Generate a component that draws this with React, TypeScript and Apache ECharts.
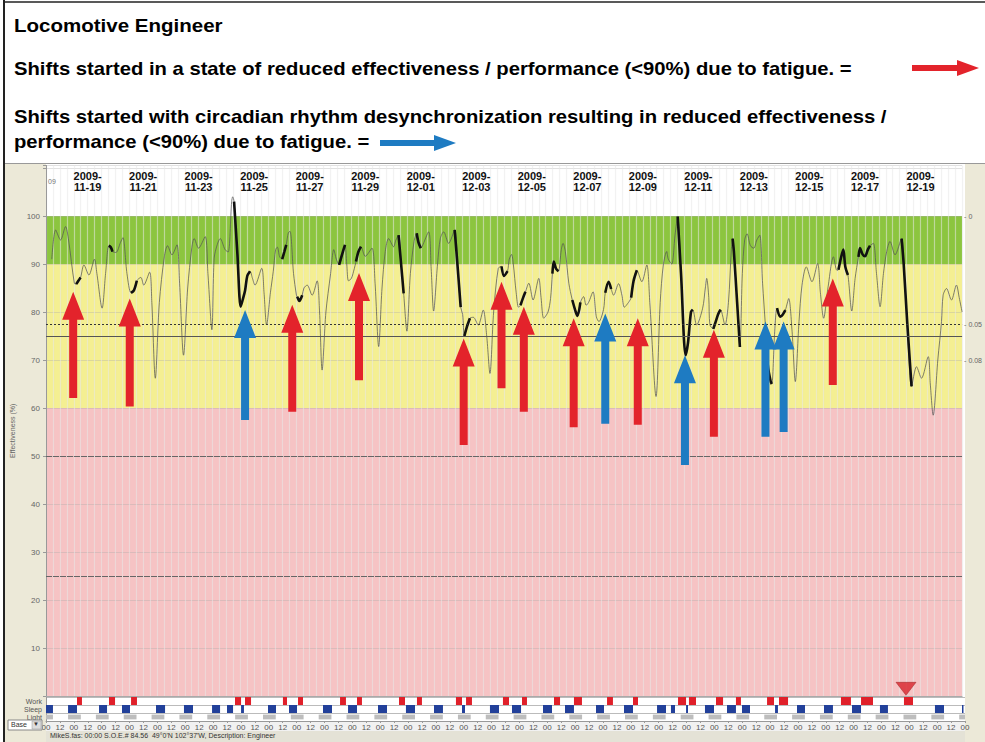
import React, { useEffect, useRef } from 'react';
import * as echarts from 'echarts';

// Hours are counted from 2009-11-18 00:00
const dateLabels = ['2009-11-19', '2009-11-21', '2009-11-23', '2009-11-25', '2009-11-27', '2009-11-29', '2009-12-01', '2009-12-03', '2009-12-05', '2009-12-07', '2009-12-09', '2009-12-11', '2009-12-13', '2009-12-15', '2009-12-17', '2009-12-19'];
const rowNames = ['Work', 'Sleep', 'Light'];
const rightAxisLabels: Record<string, string> = { '100': '0', '77.5': '0.05', '70': '0.08' };

const effectiveness: [number, number][] = [
  [5, 91], [8.3, 97.1], [12.6, 95], [16.9, 97.8], [19.5, 95], [24.5, 86], [26.1, 85.8], [28, 86.5], [29.9, 87.2], [32.8, 89.8], [37.1, 87.7], [41.9, 91], [44, 88], [48.5, 80.8],
  [51.5, 88], [54.3, 93.8], [56, 93.5], [57.5, 92.6], [60.5, 92.4], [64.4, 94.5], [66.5, 95.5], [70, 88], [73.5, 84], [76, 84.5], [78.5, 86.5], [82, 87.2], [84.5, 85.6], [89.6, 88.3], [91.5, 82], [94.5, 66.2],
  [98, 82], [102.3, 91.5], [105.1, 93.8], [108.9, 91.9], [113.2, 94], [115.5, 86], [118.9, 71],
  [122.5, 85], [126.1, 93.5], [128.1, 95.3], [131.9, 93.3], [137.6, 95.7], [140, 88], [143.4, 76.3],
  [145.4, 91.2], [148, 94], [150.6, 95.3], [154.8, 93], [157.5, 92.5], [160.5, 103], [161.4, 104],
  [162.6, 103], [165.5, 92], [168.3, 81.1], [170, 82.5], [172.1, 84.5], [174, 87.5], [176.4, 88.5], [178.5, 87], [180.7, 85.6], [186.5, 89.1], [188.5, 84], [190.7, 77.3],
  [194, 84], [196.5, 88.5], [198.5, 93], [200, 93.5], [202, 91.5], [204.2, 91], [206, 92.5], [207.7, 94], [209.5, 96.5], [211, 96.8], [214, 88], [216.5, 83.5], [217.2, 83.2], [219, 82.3], [221.5, 83.5], [223, 85], [225.8, 85.6], [230.1, 83.5], [234.4, 86.5], [236.5, 80], [238.7, 67.9],
  [242, 80], [245.9, 87.7], [248.8, 93], [251, 91], [253.4, 89.8], [256, 92], [258.5, 94], [260, 90], [261.5, 86.5], [264, 87], [266.5, 89], [268, 90.5], [270, 92.5], [272.3, 93.6], [276, 91.6], [281.8, 93.3], [284.5, 86], [287.6, 72.8],
  [290.5, 85], [293.3, 92.6], [296.2, 95.3], [300.5, 93.6], [302.5, 95], [304.8, 96], [307, 90], [309.2, 83.9], [312, 76],
  [315, 88], [318.2, 94.7], [320.5, 96.4], [322, 94.5], [324, 93.3], [325.1, 93.6], [330.8, 96.7], [333, 89], [335.1, 80.2],
  [338.5, 90], [340.9, 95.3], [343.8, 96.7], [348.1, 94.3], [353.3, 97.1], [356, 89], [358.5, 81], [360.2, 79.5], [361.7, 75], [364, 77], [366.5, 78.7], [369.4, 78.9], [373.7, 77.3], [378, 80.4], [381, 75], [383.8, 67.2],
  [387, 80], [391, 89.1], [393.8, 89.5], [396, 87.5], [399, 88.5], [400.5, 91], [402.5, 92], [404, 90], [406.5, 84], [408.5, 81], [410.2, 81.4], [412.5, 83], [414.5, 84.2], [417.4, 86], [421.1, 82.5], [426, 87], [428, 83], [430.3, 78.7],
  [434, 80], [436.2, 82.8], [437.8, 88], [439, 90.5], [441, 89], [443, 88.5], [445.5, 93], [447, 94.3], [449, 92.6], [452, 86], [455, 82.5], [458, 80], [459.5, 79.2], [462, 82], [464.8, 83.2], [467, 81.4], [469.1, 82], [472.9, 84.2], [475.8, 79],
  [478, 78], [482, 80.5], [483.5, 84], [486.4, 86.3], [488.6, 84.8], [490.7, 83.5], [495, 85.9], [497.9, 83.5], [500, 81], [503.6, 82], [505.9, 83], [508, 86.5], [510.8, 88.7], [515.1, 86.3], [519.4, 89.8], [522, 82], [527.4, 62.4],
  [531, 82], [533.7, 89.8], [536.6, 92.6], [538, 91], [541, 90], [543.8, 96], [546.1, 99.9], [549, 88], [553, 71], [555, 73.5], [557.6, 80], [559.1, 80.5], [562.5, 77.3], [567.7, 80.8], [570, 85], [571.2, 87], [573, 83], [574, 77.3], [576.9, 76.5], [579, 78], [581, 79.5], [583.1, 80.5], [587, 77.3], [590, 82], [592.5, 93], [593.6, 95.3], [594.7, 92.6], [597.5, 82], [599.9, 72.7],
  [602, 88], [604, 95], [606.1, 96.3], [609, 93.8], [611.9, 93.3], [614.5, 95], [617.1, 96], [619.5, 86], [621.9, 77.3], [624, 69], [626.5, 65.5], [627.5, 65],
  [630, 76], [632, 80.8], [634.9, 79], [637, 79.5], [639.2, 80.4], [642.1, 82.8], [645, 76], [647.8, 65.5],
  [651, 78], [653.6, 85.6], [657.3, 89.4], [662.2, 86.3], [667.1, 90.1], [669.5, 84], [672.3, 78.7],
  [676, 85], [680.8, 91.5], [683.7, 88.7], [685.1, 88.8], [687.5, 91.5], [689.3, 93], [691, 89.5], [693.3, 87.7], [696.6, 80.2],
  [699.5, 87], [702.4, 91.5], [703.8, 93.3], [706, 92], [708.1, 91.6], [710.5, 93], [712.4, 93.8], [715.3, 94.3], [718, 88], [721.1, 81.1],
  [724, 88], [726.8, 92.6], [729.7, 94.7], [734, 91.9], [739.7, 95.3], [741.5, 90], [744.5, 78], [748.3, 64.5], [752.6, 68.6], [756.9, 66.2], [762.7, 70.7], [764.5, 65], [767, 58.5],
  [771, 70], [774.2, 78], [775.6, 83.5], [778.5, 84.9], [782.8, 82.5], [787.1, 85.6], [789.5, 83], [792, 80],
];

const boldSegments: [number, number][] = [
  [26.1, 29.9], [54.3, 57.5], [73.5, 78.5], [162.6, 168.3], [170, 176.4], [204.2, 207.7], [217.2, 221.5], [253.4, 258.5], [268, 272.3], [304.8, 309.2], [320.5, 324],
  [353.3, 358.5], [361.7, 366.5], [393.8, 399], [410.2, 414.5], [437.8, 443], [455, 462], [483.5, 488.6], [505.9, 510.8], [546.1, 559.1], [576.9, 583.1], [593.6, 599.9],
  [621.9, 627.5], [632, 639.2], [685.1, 693.3], [702.4, 712.4], [739.7, 748.3],
];

const workBlocks: [number, number][] = [
  [26.7, 31.0], [54.3, 59.5], [73.3, 78.4], [162.9, 168.1], [171.5, 176.7], [204.2, 207.7], [217.2, 221.5], [253.4, 258.5], [268.0, 272.3], [304.2, 309.4],
  [319.7, 324.0], [353.3, 358.5], [362.0, 367.1], [393.8, 399.0], [410.2, 414.5], [437.8, 443.0], [455.0, 461.9], [483.5, 488.6], [505.9, 510.2], [544.7, 551.6],
  [554.1, 560.2], [577.4, 583.5], [594.6, 598.9], [621.4, 627.4], [631.7, 639.5], [685.1, 693.7], [702.4, 712.7], [739.4, 747.2],
];

const sleepBlocks: [number, number][] = [
  [0, 6.0], [19.0, 26.7], [45.7, 52.6], [65.5, 72.4], [94.8, 102.6], [118.9, 126.7], [143.1, 150.0], [156.0, 161.2], [168.1, 170.6], [191.3, 198.2], [209.4, 216.3],
  [238.7, 246.5], [260.3, 268.0], [286.1, 293.9], [310.2, 318.0], [334.4, 342.1], [358.5, 361.1], [382.6, 390.4], [401.6, 409.4], [428.3, 436.1], [447.3, 455.0],
  [474.0, 480.9], [498.1, 505.9], [526.6, 534.3], [538.6, 542.1], [551.6, 553.3], [567.9, 575.7], [586.9, 594.6], [599.8, 606.7], [628.3, 630.8], [647.2, 654.1],
  [670.5, 678.2], [694.6, 702.4], [718.7, 725.6], [766.1, 773.9], [789.4, 790.3],
];

const darkBlocks: [number, number][] = [
  [-5, 6], [19, 30], [43, 54], [67, 78], [91, 102], [115, 126], [139, 150], [163, 174], [187, 198], [211, 222], [235, 246], [259, 270], [283, 294], [307, 318],
  [331, 342], [355, 366], [379, 390], [403, 414], [427, 438], [451, 462], [475, 486], [499, 510], [523, 534], [547, 558], [571, 582], [595, 606], [619, 630],
  [643, 654], [667, 678], [691, 702], [715, 726], [739, 750], [763, 774], [787, 798],
];

// [hour, tip value, tail value]
const fatigueArrows: [number, number, number][] = [
  [23.5, 84.2, 62.1], [72.4, 82.8, 60.3], [212.9, 81.5, 59.2], [270.6, 88.1, 65.8], [361.1, 74.5, 52.3], [393.8, 86.3, 64.1],
  [413.1, 81.1, 59.2], [456.2, 78.7, 56], [511.6, 78.7, 56.5], [577.4, 76.3, 54], [680.2, 87, 64.8],
];
const desyncArrows: [number, number, number][] = [
  [172.1, 80.4, 57.5], [483.5, 79.7, 56.7], [552.4, 71, 48.1], [622, 78, 54], [637.7, 78, 55],
];

const alertMarkers: [number, number][] = [[743.5, 1.5]];
const zoneLimits = { top: 110.5, green: 100, yellow: 90, pink: 60 };
const refLines = { dotted: 77.5, solid: 75, lower: [50, 25] };

const FONT = '"Liberation Sans", Arial, sans-serif';
const RED = '#E3232B';
const BLUE = '#1E7BC2';

function App() {
  const ref = useRef<HTMLDivElement>(null);
  useEffect(() => {
    if (!ref.current) return;
    const chart = echarts.init(ref.current, undefined, { renderer: 'svg' });

    const inBold = (h: number) => boldSegments.some(([s, e]) => h >= s - 0.01 && h <= e + 0.01);
    const boldData = effectiveness.map(([h, v]) => (inBold(h) ? [h, v] : [h, '-']));

    const off = (v: number) => (zoneLimits.top - v) / zoneLimits.top;
    const bg = new echarts.graphic.LinearGradient(0, 0, 0, 1, [
      { offset: 0, color: '#ffffff' },
      { offset: off(zoneLimits.green), color: '#ffffff' },
      { offset: off(zoneLimits.green), color: '#8CC53F' },
      { offset: off(zoneLimits.yellow), color: '#8CC53F' },
      { offset: off(zoneLimits.yellow), color: '#F4EF92' },
      { offset: off(zoneLimits.pink), color: '#F4EF92' },
      { offset: off(zoneLimits.pink), color: '#F6C3C4' },
      { offset: 1, color: '#F6C3C4' },
    ]);

    const arrowRender = (color: string) => (params: any, api: any) => {
      const tip = api.coord([api.value(0), api.value(1)]);
      const tail = api.coord([api.value(0), api.value(2)]);
      const x = tip[0];
      const hw = 11, sw = 4, hh = 28;
      return {
        type: 'polygon',
        shape: {
          points: [
            [x, tip[1]], [x + hw, tip[1] + hh], [x + sw, tip[1] + hh], [x + sw, tail[1]],
            [x - sw, tail[1]], [x - sw, tip[1] + hh], [x - hw, tip[1] + hh],
          ],
        },
        style: { fill: color },
      };
    };

    const stripRender = (color: string, frac: number) => (params: any, api: any) => {
      const p0 = api.coord([api.value(0), api.value(2)]);
      const p1 = api.coord([api.value(1), api.value(2)]);
      const bh = api.size([0, 1])[1] * frac;
      const cs = params.coordSys;
      const rect = echarts.graphic.clipRectByRect(
        { x: p0[0], y: p0[1] - bh / 2, width: Math.max(p1[0] - p0[0], 1.5), height: bh },
        { x: cs.x, y: cs.y, width: cs.width, height: cs.height }
      );
      return rect ? { type: 'rect', shape: rect, style: { fill: color } } : null;
    };

    const hArrow = (x0: number, x1: number, y: number, color: string) => ({
      type: 'polygon',
      z: 100,
      shape: { points: [[x0, y - 3], [x1 - 22, y - 3], [x1 - 22, y - 8], [x1, y], [x1 - 22, y + 8], [x1 - 22, y + 3], [x0, y + 3]] },
      style: { fill: color },
    });

    const headText = (text: string, top: number, size: number, sx: number) => ({
      type: 'text', left: 14, top, z: 100, scaleX: sx,
      style: { text, font: `bold ${size}px ${FONT}`, fill: '#000' },
    });

    chart.setOption({
      animation: false,
      backgroundColor: '#ffffff',
      textStyle: { fontFamily: FONT },
      graphic: {
        elements: [
          { type: 'rect', z: -5, shape: { x: 5, y: 163, width: 41, height: 579 }, style: { fill: '#ECE9D8' } },
          { type: 'rect', z: -5, shape: { x: 965, y: 163, width: 20, height: 579 }, style: { fill: '#ECE9D8' } },
          { type: 'rect', z: -5, shape: { x: 46, y: 722, width: 919, height: 9 }, style: { fill: '#F1F1F1' } },
          { type: 'rect', z: -5, shape: { x: 46, y: 731, width: 919, height: 11 }, style: { fill: '#E4E2D6' } },
          { type: 'line', z: 100, shape: { x1: 4, y1: 0, x2: 4, y2: 742 }, style: { stroke: '#222', lineWidth: 2 } },
          { type: 'line', z: 100, shape: { x1: 4, y1: 2, x2: 985, y2: 2 }, style: { stroke: '#222', lineWidth: 1.5 } },
          { type: 'line', z: 100, shape: { x1: 5, y1: 163.5, x2: 985, y2: 163.5 }, style: { stroke: '#999', lineWidth: 1 } },
          headText('Locomotive Engineer', 16, 19, 1.08),
          headText('Shifts started in a state of reduced effectiveness / performance (<90%) due to fatigue. =', 60, 18, 1.125),
          headText('Shifts started with circadian rhythm desynchronization resulting in reduced effectiveness /', 108, 18, 1.125),
          headText('performance (<90%) due to fatigue. =', 133, 18, 1.125),
          hArrow(912, 979, 68, RED),
          hArrow(380, 456, 143, BLUE),
          { type: 'rect', z: 100, shape: { x: 8, y: 720, width: 34, height: 10 }, style: { fill: '#fff', stroke: '#888', lineWidth: 1 } },
          { type: 'rect', z: 100, shape: { x: 32, y: 721, width: 9, height: 8 }, style: { fill: '#DDD', stroke: '#999', lineWidth: 0.5 } },
          { type: 'text', z: 101, left: 11, top: 721, style: { text: 'Base', font: `7px ${FONT}`, fill: '#333' } },
          { type: 'text', z: 101, left: 33, top: 721, style: { text: '▼', font: `6px ${FONT}`, fill: '#333' } },
          { type: 'text', z: 100, left: 50, top: 732, style: { text: "MikeS.fas: 00:00 S.O.E.# 84.56  49°0'N 102°37'W, Description: Engineer", font: `7px ${FONT}`, fill: '#333' } },
          { type: 'text', z: 100, left: 48, top: 178, style: { text: '09', font: `7px ${FONT}`, fill: '#777' } },
        ],
      },
      grid: [
        { left: 46, right: 20, top: 165.6, height: 530.4, show: true, backgroundColor: bg, borderWidth: 0 },
        { left: 46, right: 20, top: 697, height: 24, show: true, backgroundColor: '#ffffff', borderWidth: 0 },
      ],
      xAxis: [
        {
          type: 'value', gridIndex: 0, min: 0, max: 792, interval: 6,
          axisLabel: { show: false }, axisLine: { show: false }, axisTick: { show: false },
          splitLine: { show: true, lineStyle: { color: 'rgba(232,232,232,0.55)', width: 1.2 } },
        },
        {
          type: 'value', gridIndex: 0, position: 'top', min: 0, max: 792, interval: 12,
          axisLine: { show: true, lineStyle: { color: '#aaa' } }, axisTick: { show: false }, splitLine: { show: false },
          axisLabel: {
            inside: true, interval: 0, margin: 5, fontSize: 11, fontWeight: 'bold', color: '#111', lineHeight: 11,
            formatter: (v: number) => {
              const k = (v - 36) / 48;
              return Number.isInteger(k) && k >= 0 && k < dateLabels.length
                ? dateLabels[k].slice(0, 5) + '\n' + dateLabels[k].slice(5) : '';
            },
          },
        },
        {
          type: 'value', gridIndex: 1, min: 0, max: 792, interval: 12,
          axisLine: { show: true, lineStyle: { color: '#999' } },
          axisTick: { show: true, length: 2, lineStyle: { color: '#999' } },
          splitLine: { show: false },
          axisLabel: { interval: 0, margin: 2, fontSize: 8, color: '#555', formatter: (v: number) => (v % 24 === 0 ? '00' : '12') },
        },
      ],
      yAxis: [
        {
          type: 'value', gridIndex: 0, min: 0, max: zoneLimits.top, interval: 10,
          name: 'Effectiveness (%)', nameLocation: 'middle', nameGap: 17, nameRotate: 90,
          nameTextStyle: { fontSize: 7, color: '#666' },
          axisLine: { show: true, lineStyle: { color: '#999' } },
          axisTick: { show: true, length: 3, lineStyle: { color: '#999' } },
          axisLabel: { fontSize: 8, color: '#666', margin: 6, formatter: (v: number) => (v > 0 && v <= 100 ? String(v) : '') },
          splitLine: { show: true, lineStyle: { color: 'rgba(170,170,170,0.35)' } },
        },
        {
          type: 'value', gridIndex: 0, position: 'right', min: 0, max: zoneLimits.top, interval: 2.5,
          axisLine: { show: true, lineStyle: { color: '#999' } }, axisTick: { show: false }, splitLine: { show: false },
          axisLabel: { fontSize: 7, color: '#666', margin: 2, formatter: (v: number) => (rightAxisLabels[String(v)] ? '- ' + rightAxisLabels[String(v)] : '') },
        },
        {
          type: 'category', gridIndex: 1, data: rowNames, inverse: true,
          axisLine: { show: true, lineStyle: { color: '#999' } }, axisTick: { show: false },
          splitLine: { show: true, lineStyle: { color: '#bbb' } },
          axisLabel: { fontSize: 7, color: '#555', margin: 4, interval: 0 },
        },
      ],
      series: [
        {
          type: 'line', xAxisIndex: 0, yAxisIndex: 0, data: [], silent: true, z: 2,
          markLine: {
            silent: true, symbol: 'none', label: { show: false },
            data: [
              { yAxis: refLines.dotted, lineStyle: { color: '#333', type: [2, 2], width: 1 } },
              { yAxis: refLines.solid, lineStyle: { color: '#555', type: 'solid', width: 1 } },
              ...refLines.lower.map((v) => ({ yAxis: v, lineStyle: { color: '#666', type: [6, 1], width: 1 } })),
            ],
          },
        },
        {
          type: 'line', xAxisIndex: 0, yAxisIndex: 0, data: effectiveness, showSymbol: false, smooth: 0.3, z: 3,
          lineStyle: { color: '#555', width: 1, opacity: 0.75 },
        },
        {
          type: 'line', xAxisIndex: 0, yAxisIndex: 0, data: boldData, showSymbol: false, smooth: 0.3, z: 4, connectNulls: false,
          lineStyle: { color: '#111', width: 2.6 },
        },
        {
          type: 'custom', xAxisIndex: 0, yAxisIndex: 0, data: fatigueArrows, renderItem: arrowRender(RED), z: 6,
          encode: { x: 0, y: [1, 2] },
        },
        {
          type: 'custom', xAxisIndex: 0, yAxisIndex: 0, data: desyncArrows, renderItem: arrowRender(BLUE), z: 6,
          encode: { x: 0, y: [1, 2] },
        },
        {
          type: 'scatter', xAxisIndex: 0, yAxisIndex: 0, data: alertMarkers, symbol: 'triangle', symbolRotate: 180,
          symbolSize: [20, 13], itemStyle: { color: '#D8232A', borderColor: '#8a1010', borderWidth: 0.5 }, z: 7,
        },
        {
          type: 'custom', xAxisIndex: 2, yAxisIndex: 2, data: workBlocks.map(([s, e]) => [s, e, 0]),
          renderItem: stripRender('#E0202A', 1), encode: { x: [0, 1], y: 2 },
        },
        {
          type: 'custom', xAxisIndex: 2, yAxisIndex: 2, data: sleepBlocks.map(([s, e]) => [s, e, 1]),
          renderItem: stripRender('#22409A', 1), encode: { x: [0, 1], y: 2 },
        },
        {
          type: 'custom', xAxisIndex: 2, yAxisIndex: 2, data: darkBlocks.map(([s, e]) => [s, e, 2]),
          renderItem: stripRender('#BDBDBD', 0.6), encode: { x: [0, 1], y: 2 },
        },
      ],
    });
    return () => chart.dispose();
  }, []);
  return <div ref={ref} style={{ position: 'fixed', left: 0, top: 0, width: 985, height: 742 }} />;
}

export default App;
